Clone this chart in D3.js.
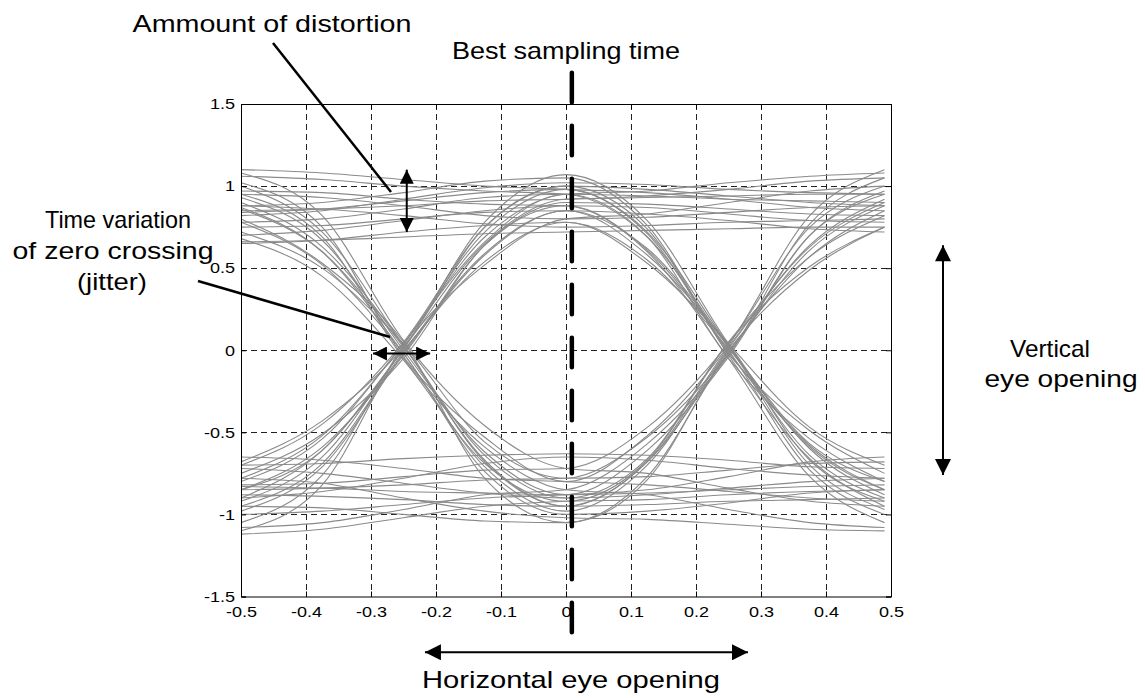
<!DOCTYPE html>
<html>
<head>
<meta charset="utf-8">
<script src="https://cdn.jsdelivr.net/npm/d3@7"></script>
<style>
  body { margin: 0; background: #fff; }
  text { font-family: "Liberation Sans", Arial, sans-serif; fill: #000; }
</style>
</head>
<body>
<svg width="1145" height="698"></svg>
<script>
// sample times of every trace (one symbol = 0.5)
const xSamples = [-0.5, -0.375, -0.25, -0.125, 0, 0.125, 0.25, 0.375, 0.49];

// received waveform segments
const traces = [
  [1.10, 1.08, 1.04, 1.00, 0.98, 0.96, 0.92, 0.87, 0.85],
  [0.85, 0.86, 0.88, 0.91, 0.92, 0.94, 0.98, 1.03, 1.05],
  [0.95, 0.93, 0.88, 0.82, 0.80, 0.81, 0.84, 0.87, 0.88],
  [0.70, 0.73, 0.79, 0.85, 0.88, 0.87, 0.83, 0.79, 0.78],
  [0.82, 0.85, 0.92, 0.99, 1.02, 1.01, 0.98, 0.96, 0.95],
  [0.88, 0.86, 0.82, 0.77, 0.75, 0.76, 0.78, 0.79, 0.80],
  [0.78, 0.80, 0.86, 0.93, 0.95, 0.94, 0.92, 0.91, 0.90],
  [0.66, 0.67, 0.69, 0.71, 0.72, 0.73, 0.74, 0.75, 0.75],
  [1.06, 1.04, 1.00, 0.97, 0.95, 0.69, 0.02, -0.59, -0.85],
  [0.88, 0.90, 0.96, 1.03, 1.05, 0.76, -0.03, -0.66, -0.95],
  [0.75, 0.76, 0.80, 0.84, 0.85, 0.62, 0.04, -0.47, -0.70],
  [0.97, 0.96, 0.92, 0.89, 0.88, 0.60, -0.05, -0.77, -1.05],
  [0.65, 0.67, 0.72, 0.76, 0.78, 0.55, 0.01, -0.57, -0.80],
  [0.84, 0.86, 0.91, 0.96, 0.98, 0.72, 0.03, -0.64, -0.90],
  [0.90, 0.63, 0.03, -0.68, -0.95, -0.68, -0.02, 0.61, 0.88],
  [1.02, 0.75, -0.04, -0.53, -0.80, -0.52, 0.03, 0.82, 1.10],
  [0.80, 0.53, 0.05, -0.78, -1.05, -0.79, 0.00, 0.49, 0.75],
  [0.93, 0.67, 0.00, -0.62, -0.88, -0.61, -0.04, 0.70, 0.97],
  [0.68, 0.45, -0.06, -0.69, -0.92, -0.67, 0.05, 0.57, 0.82],
  [0.87, 0.60, -0.02, -0.71, -0.98, -0.70, 0.01, 0.64, 0.92],
  [0.86, 0.60, 0.02, -0.64, -0.90, -0.88, -0.84, -0.80, -0.78],
  [1.08, 0.82, 0.06, -0.46, -0.72, -0.75, -0.84, -0.92, -0.95],
  [0.78, 0.52, -0.02, -0.74, -1.00, -0.98, -0.93, -0.87, -0.85],
  [0.95, 0.69, -0.05, -0.59, -0.85, -0.88, -0.97, -1.05, -1.08],
  [0.72, 0.50, 0.04, -0.56, -0.78, -0.77, -0.73, -0.69, -0.68],
  [1.00, 0.72, 0.03, -0.67, -0.95, -0.94, -0.92, -0.91, -0.90],
  [-0.85, -0.59, -0.03, 0.64, 0.90, 0.89, 0.86, 0.83, 0.82],
  [-1.10, -0.82, 0.02, 0.52, 0.80, 0.83, 0.90, 0.97, 1.00],
  [-0.70, -0.45, 0.05, 0.75, 1.00, 0.98, 0.94, 0.90, 0.88],
  [-0.95, -0.69, -0.01, 0.59, 0.85, 0.83, 0.79, 0.74, 0.72],
  [-0.80, -0.54, 0.04, 0.69, 0.95, 0.97, 1.02, 1.06, 1.08],
  [-0.92, -0.65, 0.01, 0.65, 0.92, 0.93, 0.94, 0.95, 0.95],
  [-0.90, -0.61, 0.01, 0.78, 1.07, 0.79, 0.04, -0.60, -0.88],
  [-0.75, -0.51, -0.05, 0.64, 0.88, 0.61, 0.00, -0.73, -1.00],
  [-1.05, -0.76, 0.03, 0.66, 0.95, 0.69, -0.05, -0.54, -0.80],
  [-0.85, -0.61, 0.00, 0.54, 0.78, 0.53, 0.03, -0.67, -0.92],
  [-0.68, -0.43, 0.02, 0.75, 1.00, 0.74, -0.02, -0.49, -0.75],
  [-0.98, -0.71, -0.02, 0.58, 0.85, 0.58, 0.02, -0.70, -0.97],
  [-0.78, -0.52, 0.04, 0.72, 0.98, 0.71, -0.01, -0.58, -0.85],
  [-0.88, -0.89, -0.91, -0.94, -0.95, -0.68, 0.02, 0.63, 0.90],
  [-1.08, -1.05, -0.97, -0.88, -0.85, -0.57, -0.03, 0.77, 1.05],
  [-0.72, -0.75, -0.81, -0.87, -0.90, -0.66, 0.05, 0.51, 0.75],
  [-0.95, -0.96, -1.00, -1.04, -1.05, -0.77, -0.01, 0.57, 0.85],
  [-0.82, -0.81, -0.77, -0.73, -0.72, -0.47, 0.04, 0.75, 1.00],
  [-0.85, -0.84, -0.82, -0.79, -0.78, -0.53, -0.02, 0.70, 0.95],
  [-0.65, -0.67, -0.72, -0.78, -0.80, -0.82, -0.86, -0.90, -0.92],
  [-1.12, -1.09, -1.02, -0.95, -0.92, -0.91, -0.88, -0.86, -0.85],
  [-0.90, -0.86, -0.78, -0.69, -0.65, -0.67, -0.72, -0.76, -0.78],
  [-0.78, -0.81, -0.90, -0.98, -1.02, -1.03, -1.06, -1.09, -1.10],
  [-1.00, -0.98, -0.94, -0.90, -0.88, -0.85, -0.77, -0.68, -0.65],
  [-0.83, -0.84, -0.86, -0.87, -0.88, -0.87, -0.85, -0.83, -0.82],
  [-0.70, -0.69, -0.66, -0.64, -0.63, -0.64, -0.67, -0.71, -0.72]
];

const xTicks = [-0.5, -0.4, -0.3, -0.2, -0.1, 0, 0.1, 0.2, 0.3, 0.4, 0.5];
const yTicks = [-1.5, -1, -0.5, 0, 0.5, 1, 1.5];

// annotation anchors in data units
const bestSampling = { x: 0.009, y0: 1.69, y1: -1.72 };
const distortionArrow = { x: -0.245, y0: 1.10, y1: 0.72 };
const jitterArrow = { y: -0.02, x0: -0.297, x1: -0.209 };
const verticalArrow = { x: 0.58, y0: 0.64, y1: -0.76 };
const horizontalArrow = { y: -1.84, x0: -0.217, x1: 0.28 };

const svg = d3.select("svg");
const margin = { top: 104, right: 254, bottom: 101.5, left: 241 };
const width = +svg.attr("width");
const height = +svg.attr("height");
const innerWidth = width - margin.left - margin.right;
const innerHeight = height - margin.top - margin.bottom;
const sx = 1.2; // text in the figure is stretched horizontally

const xScale = d3.scaleLinear().domain([-0.5, 0.5]).range([margin.left, margin.left + innerWidth]);
const yScale = d3.scaleLinear().domain([-1.5, 1.5]).range([margin.top + innerHeight, margin.top]);

// widen a text without a transform
const stretch = (sel, target) =>
  sel.each(function () {
    const w = target || this.getComputedTextLength() * sx;
    this.setAttribute("textLength", w);
    this.setAttribute("lengthAdjust", "spacingAndGlyphs");
  });

// arrow heads
const defs = svg.append("defs");
const addHead = (id, len, wid) => {
  defs.append("marker")
    .attr("id", id)
    .attr("viewBox", "0 0 10 10")
    .attr("refX", 10)
    .attr("refY", 5)
    .attr("markerUnits", "userSpaceOnUse")
    .attr("markerWidth", len)
    .attr("markerHeight", wid)
    .attr("orient", "auto-start-reverse")
    .append("path")
    .attr("d", "M0,0 L10,5 L0,10 Z")
    .attr("fill", "#000");
};
addHead("headS", 17, 14);
addHead("headL", 22, 16);

// grid
const grid = svg.append("g")
  .attr("stroke", "#222")
  .attr("stroke-width", 1)
  .attr("shape-rendering", "crispEdges")
  .attr("stroke-dasharray", "6,4");
grid.selectAll(".gx")
  .data(xTicks.slice(1, -1))
  .enter().append("line")
  .attr("x1", d => xScale(d)).attr("x2", d => xScale(d))
  .attr("y1", yScale(1.5)).attr("y2", yScale(-1.5));
grid.selectAll(".gy")
  .data(yTicks.slice(1, -1))
  .enter().append("line")
  .attr("x1", xScale(-0.5)).attr("x2", xScale(0.5))
  .attr("y1", d => yScale(d)).attr("y2", d => yScale(d));

// traces
const lineGenerator = d3.line()
  .x((d, i) => xScale(xSamples[i]))
  .y(d => yScale(d))
  .curve(d3.curveMonotoneX);

svg.append("g")
  .selectAll("path")
  .data(traces)
  .enter().append("path")
  .attr("d", lineGenerator)
  .attr("fill", "none")
  .attr("stroke", "#8a8a8a")
  .attr("stroke-width", 1.1);

// axes
const fmt = d => String(d);
const xAxisG = svg.append("g")
  .attr("transform", `translate(0,${yScale(-1.5)})`)
  .call(d3.axisBottom(xScale).tickValues(xTicks).tickFormat(fmt).tickSize(-5).tickPadding(10));
const yAxisG = svg.append("g")
  .attr("transform", `translate(${xScale(-0.5)},0)`)
  .call(d3.axisLeft(yScale).tickValues(yTicks).tickFormat(fmt).tickSize(-5).tickPadding(6));
const topAxisG = svg.append("g")
  .attr("transform", `translate(0,${yScale(1.5)})`)
  .call(d3.axisTop(xScale).tickValues(xTicks).tickSize(-5));
const rightAxisG = svg.append("g")
  .attr("transform", `translate(${xScale(0.5)},0)`)
  .call(d3.axisRight(yScale).tickValues(yTicks).tickSize(-5));
topAxisG.selectAll("text").remove();
rightAxisG.selectAll("text").remove();

svg.selectAll(".domain").attr("stroke", "#000");
svg.selectAll(".tick line").attr("stroke", "#000");
[xAxisG, yAxisG].forEach(g => {
  g.attr("font-family", null).attr("font-size", null);
  g.selectAll("text").style("font-size", "15px");
  stretch(g.selectAll("text"));
});

// best sampling time
svg.append("line")
  .attr("x1", xScale(bestSampling.x)).attr("x2", xScale(bestSampling.x))
  .attr("y1", yScale(bestSampling.y0)).attr("y2", yScale(bestSampling.y1))
  .attr("stroke", "#000")
  .attr("stroke-width", 4.5)
  .attr("stroke-linecap", "round")
  .attr("stroke-dasharray", "29.5,23.5");

// arrows
const arrow = (x1, y1, x2, y2, head) =>
  svg.append("line")
    .attr("x1", x1).attr("y1", y1).attr("x2", x2).attr("y2", y2)
    .attr("stroke", "#000")
    .attr("stroke-width", 2)
    .attr("marker-start", `url(#${head})`)
    .attr("marker-end", `url(#${head})`);

arrow(xScale(distortionArrow.x), yScale(distortionArrow.y0), xScale(distortionArrow.x), yScale(distortionArrow.y1), "headS");
arrow(xScale(jitterArrow.x0), yScale(jitterArrow.y), xScale(jitterArrow.x1), yScale(jitterArrow.y), "headS");
arrow(xScale(verticalArrow.x), yScale(verticalArrow.y0), xScale(verticalArrow.x), yScale(verticalArrow.y1), "headL");
arrow(xScale(horizontalArrow.x0), yScale(horizontalArrow.y), xScale(horizontalArrow.x1), yScale(horizontalArrow.y), "headL");

// leader lines
const leader = (x1, y1, x2, y2) =>
  svg.append("line")
    .attr("x1", x1).attr("y1", y1).attr("x2", x2).attr("y2", y2)
    .attr("stroke", "#000")
    .attr("stroke-width", 2.5);
leader(273, 43, 391, 192);
leader(198, 281, 390, 337);

// labels: text, centre x, baseline y, width in the figure
const label = (txt, x, y, w) =>
  svg.append("text")
    .attr("x", x)
    .attr("y", y)
    .attr("text-anchor", "middle")
    .style("font-size", "24px")
    .text(txt)
    .call(stretch, w);

label("Ammount of distortion", 272, 32, 279);
label("Best sampling time", 566, 59, 228);
label("Time variation", 118, 228, 146);
label("of zero crossing", 113, 259, 201);
label("(jitter)", 112, 290, 70);
label("Vertical", 1050, 357, 80);
label("eye opening", 1061, 387, 153);
label("Horizontal eye opening", 571, 688, 298);
</script>
</body>
</html>
